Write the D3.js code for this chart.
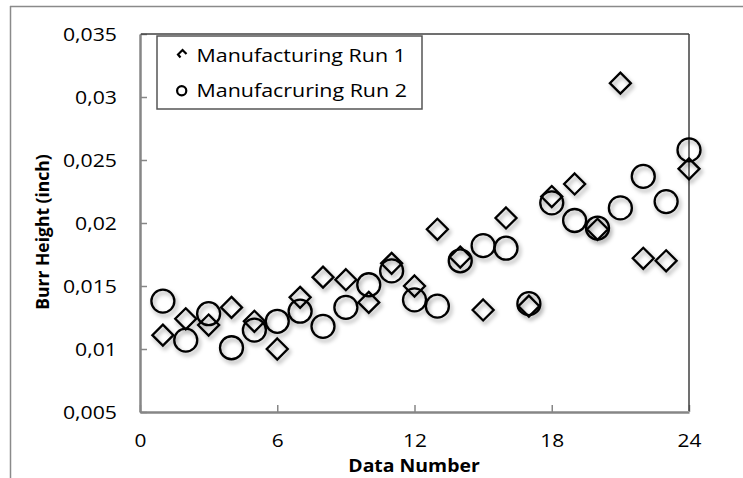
<!DOCTYPE html>
<html>
<head>
<meta charset="utf-8">
<script src="https://cdn.jsdelivr.net/npm/d3@7"></script>
<style>
  html, body { margin: 0; padding: 0; background: #fff; }
  svg { display: block; }
  text { font-family: "Open Sans", sans-serif; fill: #000; }
</style>
</head>
<body>
<svg id="chart" width="743" height="478"></svg>
<script>
// ---- data ----
const dataNumbers = [1,2,3,4,5,6,7,8,9,10,11,12,13,14,15,16,17,18,19,20,21,22,23,24];
const run1 = [0.0111,0.0124,0.0119,0.0133,0.0122,0.0100,0.0141,0.0157,0.0155,0.0137,0.0168,0.0150,
              0.0195,0.0173,0.0131,0.0204,0.0134,0.0221,0.0231,0.0195,0.0311,0.0172,0.0170,0.0243];
const run2 = [0.0138,0.0107,0.0128,0.0101,0.0115,0.0122,0.0130,0.0118,0.0133,0.0151,0.0162,0.0139,
              0.0134,0.0170,0.0182,0.0180,0.0136,0.0216,0.0202,0.0196,0.0212,0.0237,0.0217,0.0258];
const seriesNames = ["Manufacturing Run 1", "Manufacruring Run 2"];
const xTicks = [0, 6, 12, 18, 24];
const yTicks = [0.005, 0.01, 0.015, 0.02, 0.025, 0.03, 0.035];
const xTitle = "Data Number";
const yTitle = "Burr Height (inch)";

// ---- layout ----
const svg = d3.select("#chart");
const L = 140, R = 689, T = 34, B = 412;
const x = d3.scaleLinear().domain([0, 24]).range([L, R]);
const y = d3.scaleLinear().domain([0.005, 0.035]).range([B, T]);

const locale = d3.formatLocale({decimal: ",", thousands: ".", grouping: [3], currency: ["", ""]});
const fmt = locale.format(".3~f");

const defs = svg.append("defs");
const f = defs.append("filter").attr("id", "shadow")
  .attr("x", "-50%").attr("y", "-50%").attr("width", "200%").attr("height", "200%");
f.append("feDropShadow").attr("dx", 2).attr("dy", 3).attr("stdDeviation", 2)
  .attr("flood-color", "#000").attr("flood-opacity", 0.35);

// outer chart frame (top + left visible)
svg.append("line").attr("x1", 10).attr("x2", 743).attr("y1", 6.5).attr("y2", 6.5)
  .attr("stroke", "#8a8a8a").attr("stroke-width", 1.5);
svg.append("line").attr("x1", 10.5).attr("x2", 10.5).attr("y1", 6).attr("y2", 478)
  .attr("stroke", "#8a8a8a").attr("stroke-width", 1.5);

function stretch(k) {
  return sel => sel.each(function() {
    const t = d3.select(this);
    const tx = +t.attr("x") || 0;
    t.attr("transform", `translate(${tx},0) scale(${k},1) translate(${-tx},0)`);
  });
}

// y axis
const gy = svg.append("g").attr("transform", `translate(${L},0)`)
  .call(d3.axisLeft(y).tickValues(yTicks).tickFormat(fmt).tickSizeInner(-7).tickSizeOuter(0).tickPadding(23));
gy.select(".domain").attr("stroke", "#868686").attr("stroke-width", 2.5);
gy.selectAll(".tick line").attr("stroke", "#868686").attr("stroke-width", 1.5);
gy.selectAll(".tick text").attr("font-size", 18).attr("font-family", "Open Sans").attr("fill", "#000")
  .attr("dy", "0.34em").call(stretch(1.18));

// x axis
const gx = svg.append("g").attr("transform", `translate(0,${B})`)
  .call(d3.axisBottom(x).tickValues(xTicks).tickFormat(d3.format("d")).tickSizeInner(-7).tickSizeOuter(0).tickPadding(22));
gx.select(".domain").attr("stroke", "#868686").attr("stroke-width", 2.5);
gx.selectAll(".tick line").attr("stroke", "#868686").attr("stroke-width", 1.5);
gx.selectAll(".tick text").attr("font-size", 18).attr("font-family", "Open Sans").attr("fill", "#000").call(stretch(1.16));

// top + right border of plot area
svg.append("line").attr("x1", L + 1).attr("x2", R).attr("y1", T).attr("y2", T)
  .attr("stroke", "#404040").attr("stroke-width", 1.5);
svg.append("line").attr("x1", R).attr("x2", R).attr("y1", T).attr("y2", B - 1)
  .attr("stroke", "#404040").attr("stroke-width", 1.5);

// titles
svg.append("text").attr("x", 414).attr("y", 472.5).attr("text-anchor", "middle")
  .attr("font-size", 18.5).attr("font-weight", "bold").text(xTitle)
  .attr("transform", `translate(414,0) scale(1.05,1) translate(-414,0)`);
svg.append("text").attr("transform", "translate(49,232) rotate(-90)")
  .attr("text-anchor", "middle").attr("font-size", 17.5).attr("font-weight", "bold").text(yTitle);

// markers
const pts1 = dataNumbers.map((d, i) => ({x: d, v: run1[i]}));
const pts2 = dataNumbers.map((d, i) => ({x: d, v: run2[i]}));
const dsz = 10.5;
const gm = svg.append("g").attr("filter", "url(#shadow)");
gm.selectAll("path.d1").data(pts1).join("path").attr("class", "d1")
  .attr("d", d => {
    const cx = x(d.x), cy = y(d.v);
    return `M${cx},${cy - dsz}L${cx + dsz},${cy}L${cx},${cy + dsz}L${cx - dsz},${cy}Z`;
  })
  .attr("fill", "none").attr("stroke", "#000").attr("stroke-width", 2.3);
gm.selectAll("circle.c2").data(pts2).join("circle").attr("class", "c2")
  .attr("cx", d => x(d.x)).attr("cy", d => y(d.v)).attr("r", 11.5)
  .attr("fill", "none").attr("stroke", "#000").attr("stroke-width", 2.3);

// legend
const lg = svg.append("g");
lg.append("rect").attr("x", 157).attr("y", 36).attr("width", 265).attr("height", 73)
  .attr("fill", "#fff").attr("stroke", "#555").attr("stroke-width", 1.5);
lg.append("path").attr("d", "M180.5,57.5L178,54.5L182.5,50L186.5,54")
  .attr("fill", "none").attr("stroke", "#000").attr("stroke-width", 2.2);
lg.append("circle").attr("cx", 181.7).attr("cy", 90.8).attr("r", 4.6)
  .attr("fill", "none").attr("stroke", "#000").attr("stroke-width", 2.2);
lg.selectAll("text").data(seriesNames).join("text")
  .attr("x", 196.5).attr("y", (d, i) => i === 0 ? 61.7 : 96.7)
  .attr("font-size", 17.5).text(d => d).call(stretch(1.225));
</script>
</body>
</html>
